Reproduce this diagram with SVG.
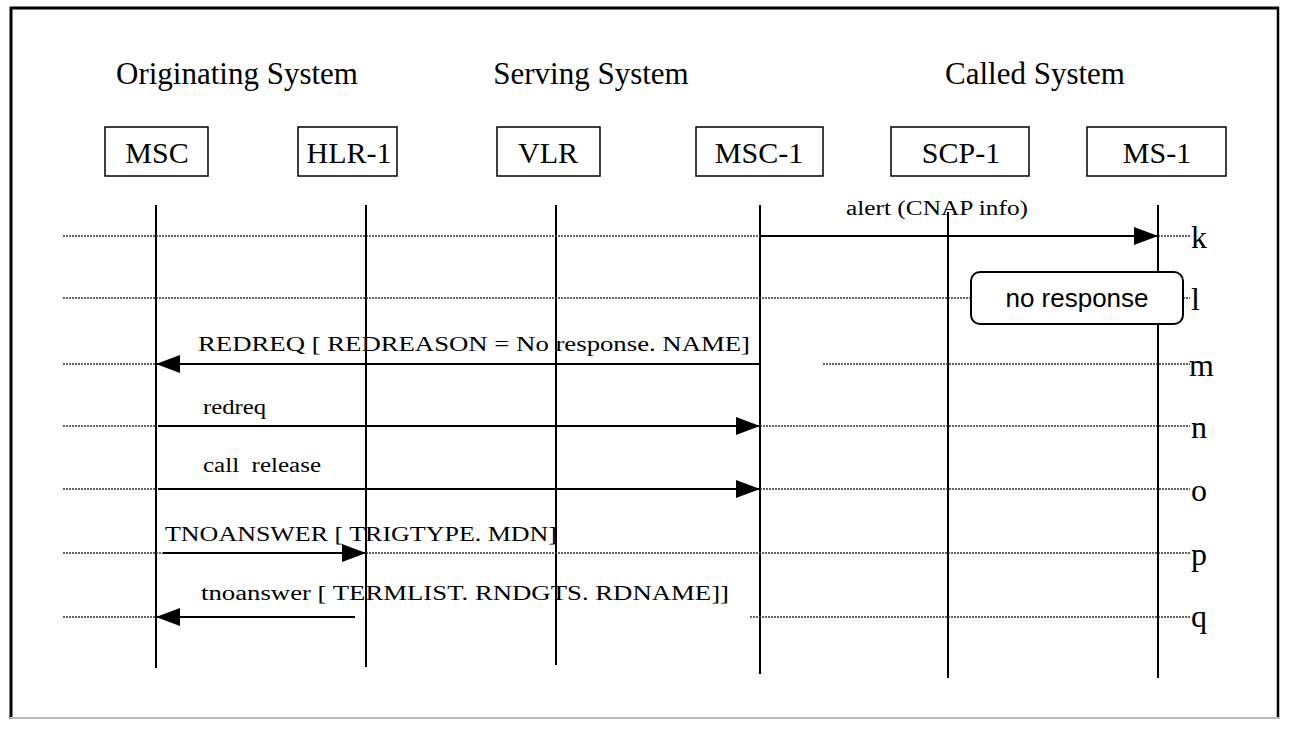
<svg xmlns="http://www.w3.org/2000/svg" width="1289" height="733" viewBox="0 0 1289 733">
<defs>
<style>
.hdr{font-family:"Liberation Serif",serif;font-size:31px;fill:#000;text-anchor:middle}
.box{fill:#fff;stroke:#000;stroke-width:1.5}
.lbl{font-family:"Liberation Serif",serif;font-size:30px;fill:#000;text-anchor:middle}
.life{stroke:#000;stroke-width:2}
.dot{stroke:#333;stroke-width:1.3;stroke-dasharray:2 1;fill:none}
.msg{stroke:#000;stroke-width:2.2;fill:none}
.mt{font-family:"Liberation Serif",serif;font-size:20px;fill:#000;white-space:pre}
.row{font-family:"Liberation Serif",serif;font-size:32px;fill:#000}
</style>
<marker id="ah" viewBox="0 0 24 18" refX="24" refY="9" markerWidth="24" markerHeight="18" markerUnits="userSpaceOnUse" orient="auto">
<path d="M0,0 L24,9 L0,18 Z" fill="#000"/>
</marker>
</defs>
<rect width="1289" height="733" fill="#fff"/>
<g id="frame">
<line x1="10" y1="8" x2="1279" y2="8" stroke="#000" stroke-width="3"/>
<line x1="11" y1="7" x2="11" y2="719" stroke="#000" stroke-width="3"/>
<line x1="1278" y1="7" x2="1278" y2="719" stroke="#000" stroke-width="2.5"/>
<line x1="10" y1="718" x2="1279" y2="718" stroke="#bbb" stroke-width="2"/>
</g>
<g id="headers">
<text class="hdr" x="237" y="84">Originating System</text>
<text class="hdr" x="591" y="84">Serving System</text>
<text class="hdr" x="1035" y="84">Called System</text>
</g>
<g id="node-msc"><rect class="box" x="105" y="127" width="103" height="49"/><text class="lbl" x="157" y="163">MSC</text></g>
<g id="node-hlr1"><rect class="box" x="298" y="127" width="99" height="49"/><text class="lbl" x="349" y="163">HLR-1</text></g>
<g id="node-vlr"><rect class="box" x="497" y="127" width="103" height="49"/><text class="lbl" x="548" y="163">VLR</text></g>
<g id="node-msc1"><rect class="box" x="696" y="127" width="127" height="49"/><text class="lbl" x="759" y="163">MSC-1</text></g>
<g id="node-scp1"><rect class="box" x="891" y="127" width="138" height="49"/><text class="lbl" x="961" y="163">SCP-1</text></g>
<g id="node-ms1"><rect class="box" x="1087" y="127" width="139" height="49"/><text class="lbl" x="1157" y="163">MS-1</text></g>
<g id="lifelines">
<line class="life" x1="156" y1="205" x2="156" y2="668"/>
<line class="life" x1="366" y1="205" x2="366" y2="667"/>
<line class="life" x1="556" y1="205" x2="556" y2="665"/>
<line class="life" x1="760" y1="205" x2="760" y2="674"/>
<line class="life" x1="948" y1="212" x2="948" y2="678"/>
<line class="life" x1="1158" y1="205" x2="1158" y2="678"/>
</g>
<g id="connectors">
<line class="dot" x1="63" y1="236" x2="760" y2="236"/>
<line class="dot" x1="1158" y1="236" x2="1190" y2="236"/>
<line class="dot" x1="63" y1="298" x2="971" y2="298"/>
<line class="dot" x1="1183" y1="298" x2="1190" y2="298"/>
<line class="dot" x1="63" y1="364" x2="156" y2="364"/>
<line class="dot" x1="823" y1="364" x2="1190" y2="364"/>
<line class="dot" x1="63" y1="426" x2="156" y2="426"/>
<line class="dot" x1="760" y1="426" x2="1190" y2="426"/>
<line class="dot" x1="63" y1="489" x2="156" y2="489"/>
<line class="dot" x1="760" y1="489" x2="1190" y2="489"/>
<line class="dot" x1="63" y1="553" x2="1190" y2="553"/>
<line class="dot" x1="63" y1="617" x2="156" y2="617"/>
<line class="dot" x1="750" y1="617" x2="1190" y2="617"/>
<line class="msg" x1="760" y1="236" x2="1158" y2="236" marker-end="url(#ah)"/>
<line class="msg" x1="760" y1="364" x2="156" y2="364" marker-end="url(#ah)"/>
<line class="msg" x1="158" y1="426" x2="760" y2="426" marker-end="url(#ah)"/>
<line class="msg" x1="158" y1="489" x2="760" y2="489" marker-end="url(#ah)"/>
<line class="msg" x1="163" y1="553" x2="366" y2="553" marker-end="url(#ah)"/>
<line class="msg" x1="355" y1="617" x2="156" y2="617" marker-end="url(#ah)"/>
</g>
<g id="node-noresponse">
<rect x="971" y="272" width="212" height="52" rx="9" fill="#fff" stroke="#000" stroke-width="2"/>
<text x="1077" y="307" font-family="Liberation Sans, Arial, sans-serif" font-size="26" text-anchor="middle">no response</text>
</g>
<g id="labels">
<text class="mt" x="846" y="215" font-size="18" textLength="182" lengthAdjust="spacingAndGlyphs">alert (CNAP info)</text>
<text class="mt" x="198" y="351" textLength="552" lengthAdjust="spacingAndGlyphs">REDREQ [ REDREASON = No response. NAME]</text>
<text class="mt" x="203" y="414" textLength="63" lengthAdjust="spacingAndGlyphs">redreq</text>
<text class="mt" x="203" y="472" textLength="118" lengthAdjust="spacingAndGlyphs">call  release</text>
<text class="mt" x="165" y="541" textLength="392" lengthAdjust="spacingAndGlyphs">TNOANSWER [ TRIGTYPE. MDN]</text>
<text class="mt" x="201" y="600" textLength="528" lengthAdjust="spacingAndGlyphs">tnoanswer [ TERMLIST. RNDGTS. RDNAME]]</text>
</g>
<g id="rows">
<text class="row" x="1191" y="248">k</text>
<text class="row" x="1191" y="310">l</text>
<text class="row" x="1189" y="376">m</text>
<text class="row" x="1191" y="438">n</text>
<text class="row" x="1191" y="501">o</text>
<text class="row" x="1191" y="565">p</text>
<text class="row" x="1191" y="627">q</text>
</g>
</svg>
